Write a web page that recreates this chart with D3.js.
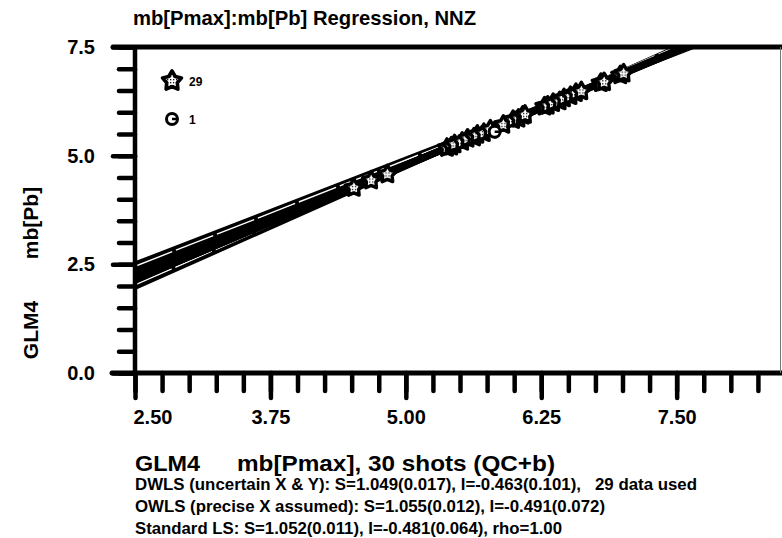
<!DOCTYPE html>
<html>
<head>
<meta charset="utf-8">
<script src="https://cdnjs.cloudflare.com/ajax/libs/d3/7.8.5/d3.min.js"></script>
<style>
  body { margin: 0; background: #fff; }
  svg { display: block; font-family: 'Liberation Sans', Arial, Helvetica, sans-serif; }
</style>
</head>
<body>
<div id="chart"></div>
<script>

// --- Data
var usedX = [4.52, 4.68, 4.83, 5.38, 5.42, 5.45, 5.52, 5.57, 5.63, 5.66, 5.72, 5.78, 5.90, 5.99, 6.04,
             6.08, 6.10, 6.28, 6.31, 6.36, 6.42, 6.46, 6.52, 6.57, 6.62, 6.80, 6.83, 6.98, 7.01];
var usedY = [4.26, 4.43, 4.57, 5.18, 5.21, 5.26, 5.32, 5.39, 5.42, 5.48, 5.52, 5.60, 5.71, 5.82, 5.85,
             5.92, 5.94, 6.13, 6.15, 6.21, 6.25, 6.32, 6.37, 6.44, 6.48, 6.67, 6.69, 6.85, 6.89];
var rejectedX = [5.82];
var rejectedY = [5.55];

// --- Fits (slope, intercept)
var fitSlopes = [1.049, 1.055, 1.052];
var fitIntercepts = [-0.463, -0.491, -0.481];

// --- Outer lines of the drawn band and the thin white lines inside it
var bandSlopes = [0.966, 1.11];
var bandIntercepts = [0.105, -0.82];
var gapSlopes = [0.978, 1.098];
var gapIntercepts = [0.01, -0.72];

var xTicks = [2.5, 3.75, 5, 6.25, 7.5];
var yTicks = [0, 2.5, 5, 7.5];
var statLines = [
  'DWLS (uncertain X & Y): S=1.049(0.017), I=-0.463(0.101),   29 data used',
  'OWLS (precise X assumed): S=1.055(0.012), I=-0.491(0.072)',
  'Standard LS: S=1.052(0.011), I=-0.481(0.064), rho=1.00'
];
var statWidths = [562, 470, 427];
var legendLabels = ['29', '1'];

var width = 782;
var height = 538;
var plotL = 135, plotR = 785, plotT = 47, plotB = 373;

var x = d3.scaleLinear().domain([2.5, 8.5]).range([plotL, plotR]);
var y = d3.scaleLinear().domain([0, 7.5]).range([plotB, plotT]);

var svg = d3.select('#chart')
  .append('svg')
  .attr('width', width)
  .attr('height', height);

var defs = svg.append('defs');
defs.append('clipPath').attr('id', 'plotclip')
  .append('rect')
  .attr('x', plotL).attr('y', plotT)
  .attr('width', plotR - plotL).attr('height', plotB - plotT);

// --- dotted fill for the stars
var pat = defs.append('pattern')
  .attr('id', 'dots')
  .attr('width', 3).attr('height', 3)
  .attr('patternUnits', 'userSpaceOnUse');
pat.append('rect').attr('width', 3).attr('height', 3).attr('fill', '#fff');
pat.append('rect').attr('x', 1).attr('y', 1).attr('width', 1.3).attr('height', 1.3).attr('fill', '#111');

function starPath(R, r) {
  var pts = [];
  for (var k = 0; k < 10; k++) {
    var a = -Math.PI / 2 + k * Math.PI / 5;
    var rad = k % 2 === 0 ? R : r;
    pts.push([rad * Math.cos(a), rad * Math.sin(a)]);
  }
  return 'M' + pts.join('L') + 'Z';
}

function lineAt(s, i, xv) { return s * xv + i; }

// --- The band of regression lines
var plot = svg.append('g').attr('clip-path', 'url(#plotclip)');

var xCross = (bandIntercepts[1] - bandIntercepts[0]) / (bandSlopes[0] - bandSlopes[1]);
var bandXs = [2.5, xCross, 8.5];
var area = d3.area()
  .x(function(d) { return x(d); })
  .y0(function(d) { return y(Math.min(lineAt(bandSlopes[0], bandIntercepts[0], d), lineAt(bandSlopes[1], bandIntercepts[1], d))); })
  .y1(function(d) { return y(Math.max(lineAt(bandSlopes[0], bandIntercepts[0], d), lineAt(bandSlopes[1], bandIntercepts[1], d))); });

plot.append('path')
  .attr('d', area(bandXs))
  .attr('fill', '#000')
  .attr('stroke', '#000')
  .attr('stroke-width', 4)
  .attr('stroke-linejoin', 'round');

plot.selectAll('.gap').data(gapSlopes).enter()
  .append('line')
  .attr('class', 'gap')
  .attr('x1', x(2.5))
  .attr('y1', function(d, i) { return y(lineAt(d, gapIntercepts[i], 2.5)); })
  .attr('x2', x(8.5))
  .attr('y2', function(d, i) { return y(lineAt(d, gapIntercepts[i], 8.5)); })
  .attr('stroke', '#fff')
  .attr('stroke-width', 1.4)
  .attr('stroke-dasharray', '40,4');

// the fitted lines form the dark core of the band
plot.selectAll('.fit').data(fitSlopes).enter()
  .append('line')
  .attr('class', 'fit')
  .attr('x1', x(2.5))
  .attr('y1', function(d, i) { return y(lineAt(d, fitIntercepts[i], 2.5)); })
  .attr('x2', x(8.5))
  .attr('y2', function(d, i) { return y(lineAt(d, fitIntercepts[i], 8.5)); })
  .attr('stroke', '#000')
  .attr('stroke-width', 7);

// --- Data points
var points = usedX.map(function(d, i) { return { x: d, y: usedY[i] }; });
plot.selectAll('.star').data(points).enter()
  .append('path')
  .attr('class', 'star')
  .attr('d', starPath(9, 5))
  .attr('transform', function(d) { return 'translate(' + x(d.x) + ',' + y(d.y) + ')'; })
  .attr('fill', 'url(#dots)')
  .attr('stroke', '#000')
  .attr('stroke-width', 3.4)
  .attr('stroke-linejoin', 'round');

var rejected = rejectedX.map(function(d, i) { return { x: d, y: rejectedY[i] }; });
var rj = plot.selectAll('.rej').data(rejected).enter()
  .append('g')
  .attr('class', 'rej')
  .attr('transform', function(d) { return 'translate(' + x(d.x) + ',' + y(d.y) + ')'; });
rj.append('circle').attr('r', 5.5).attr('fill', '#fff').attr('stroke', '#000').attr('stroke-width', 3);
rj.append('line').attr('x1', 0).attr('x2', 5).attr('y1', 0).attr('y2', 0).attr('stroke', '#000').attr('stroke-width', 2.5);

// --- Axes
function styleTicks(g) {
  g.select('.domain').remove();
  g.selectAll('.tick line')
    .attr('stroke', '#000')
    .attr('stroke-width', 4.5)
    .attr('stroke-linecap', 'round');
  g.selectAll('.tick text')
    .attr('fill', '#000')
    .attr('font-size', 20)
    .attr('font-weight', 'bold')
    .attr('font-family', "'Liberation Sans', Arial, sans-serif");
}

svg.append('g')
  .attr('transform', 'translate(0,' + plotB + ')')
  .call(d3.axisBottom(x).tickValues(d3.range(2.5, 8.45, 0.25)).tickSize(18).tickFormat(''))
  .call(styleTicks);

var xMajor = svg.append('g')
  .attr('transform', 'translate(0,' + plotB + ')')
  .call(d3.axisBottom(x).tickValues(xTicks).tickSize(25).tickPadding(12).tickFormat(d3.format('.2f')))
  .call(styleTicks);
xMajor.selectAll('.tick text').filter(function(d) { return d === 2.5; })
  .attr('text-anchor', 'start').attr('x', -2);

svg.append('g')
  .attr('transform', 'translate(' + plotL + ',0)')
  .call(d3.axisLeft(y).tickValues(d3.range(0, 7.51, 0.5)).tickSize(16).tickFormat(''))
  .call(styleTicks);

svg.append('g')
  .attr('transform', 'translate(' + plotL + ',0)')
  .call(d3.axisLeft(y).tickValues(yTicks).tickSize(22).tickPadding(18).tickFormat(d3.format('.1f')))
  .call(styleTicks);

// --- Frame
svg.append('line').attr('x1', 113).attr('x2', plotR).attr('y1', plotT).attr('y2', plotT)
  .attr('stroke', '#000').attr('stroke-width', 5).attr('stroke-linecap', 'round');
svg.append('line').attr('x1', 112).attr('x2', plotR).attr('y1', plotB).attr('y2', plotB)
  .attr('stroke', '#000').attr('stroke-width', 5).attr('stroke-linecap', 'round');
svg.append('line').attr('x1', plotL).attr('x2', plotL).attr('y1', plotT).attr('y2', plotB)
  .attr('stroke', '#000').attr('stroke-width', 4.5);
svg.append('line').attr('x1', 780.5).attr('x2', 780.5).attr('y1', plotT).attr('y2', plotB)
  .attr('stroke', '#777').attr('stroke-width', 1);

// --- Legend
var legend = svg.append('g');
legend.append('path')
  .attr('d', starPath(10, 5.6))
  .attr('transform', 'translate(172,81)')
  .attr('fill', 'url(#dots)')
  .attr('stroke', '#000')
  .attr('stroke-width', 3.6)
  .attr('stroke-linejoin', 'round');
legend.append('circle').attr('cx', 172).attr('cy', 119).attr('r', 5.5)
  .attr('fill', '#fff').attr('stroke', '#000').attr('stroke-width', 3);
legend.append('line').attr('x1', 172).attr('x2', 177).attr('y1', 119).attr('y2', 119)
  .attr('stroke', '#000').attr('stroke-width', 2.5);
legend.selectAll('.lt').data(legendLabels).enter()
  .append('text')
  .attr('class', 'lt')
  .attr('x', 189)
  .attr('y', function(d, i) { return i === 0 ? 86 : 124; })
  .attr('font-size', 12)
  .attr('font-weight', 'bold')
  .text(function(d) { return d; });

// --- Titles
svg.append('text')
  .attr('x', 133).attr('y', 25)
  .attr('font-size', 20.5).attr('font-weight', 'bold')
  .attr('textLength', 343).attr('lengthAdjust', 'spacingAndGlyphs')
  .text('mb[Pmax]:mb[Pb] Regression, NNZ');

svg.append('text')
  .attr('x', 135).attr('y', 471)
  .attr('font-size', 22).attr('font-weight', 'bold')
  .attr('textLength', 65).attr('lengthAdjust', 'spacingAndGlyphs')
  .text('GLM4');
svg.append('text')
  .attr('x', 237).attr('y', 471)
  .attr('font-size', 22).attr('font-weight', 'bold')
  .attr('textLength', 318).attr('lengthAdjust', 'spacingAndGlyphs')
  .text('mb[Pmax], 30 shots (QC+b)');

svg.append('text')
  .attr('transform', 'translate(38,330) rotate(-90)')
  .attr('text-anchor', 'middle')
  .attr('font-size', 21).attr('font-weight', 'bold')
  .text('GLM4');
svg.append('text')
  .attr('transform', 'translate(38,223) rotate(-90)')
  .attr('text-anchor', 'middle')
  .attr('font-size', 21).attr('font-weight', 'bold')
  .text('mb[Pb]');

svg.selectAll('.stat').data(statLines).enter()
  .append('text')
  .attr('class', 'stat')
  .attr('x', 135)
  .attr('y', function(d, i) { return 490 + i * 22; })
  .attr('font-size', 17)
  .attr('font-weight', 'bold')
  .attr('textLength', function(d, i) { return statWidths[i]; })
  .attr('lengthAdjust', 'spacingAndGlyphs')
  .style('white-space', 'pre')
  .text(function(d) { return d; });

</script>
</body>
</html>
